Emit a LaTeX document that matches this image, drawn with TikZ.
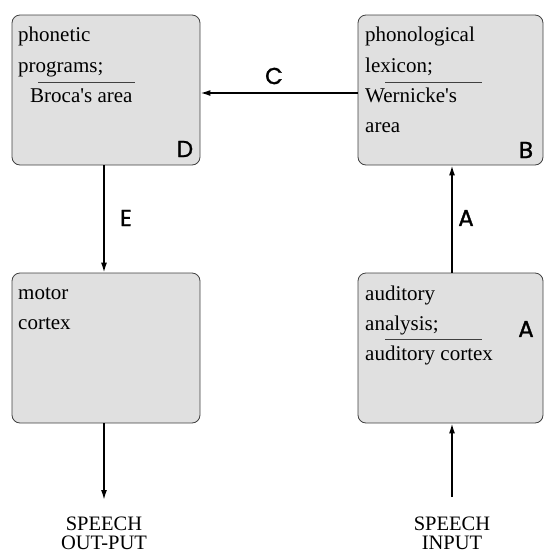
\documentclass[tikz,border=0pt]{standalone}
\usepackage{fontspec}
\setmainfont{Liberation Serif}
\newfontfamily\lblfont{Poppins}[FakeBold=1.3]
\usetikzlibrary{arrows.meta}
\definecolor{boxfill}{HTML}{E0E0E0}
\definecolor{boxline}{HTML}{404040}
\tikzset{
  box/.style={draw=boxline, line width=0.8pt, fill=boxfill, rounded corners=8pt, inner sep=0pt},
  arr/.style={line width=1.6pt, -{Latex[length=10pt,width=6pt]}},
  txt/.style={anchor=base west, inner sep=0pt, font=\fontsize{21}{24}\selectfont},
  ctxt/.style={anchor=base, inner sep=0pt, font=\fontsize{20.5}{24}\selectfont},
  lbl/.style={inner sep=0pt, font=\lblfont\fontsize{23}{26}\selectfont},
  sep/.style={line width=0.9pt, draw=boxline}
}
\begin{document}
\begin{tikzpicture}[x=1pt,y=-1pt]
\useasboundingbox (0,0) rectangle (544,555);
% boxes
\node[box, minimum width=188pt, minimum height=150pt] (D) at (106,90) {};
\node[box, minimum width=185pt, minimum height=150pt] (B) at (450.5,90) {};
\node[box, minimum width=188pt, minimum height=150pt] (M) at (106,348) {};
\node[box, minimum width=185pt, minimum height=150pt] (A) at (450.5,348) {};
% D text
\node[txt] (d1) at (18,41) {phonetic};
\node[txt] (d2) at (18,72) {programs;};
\node[txt] (d3) at (30,102) {Broca\textquotesingle s area};
\draw[sep] (38,82) -- (135,82);
\node[lbl] (dl) at (185,149) {D};
% B text
\node[txt] (b1) at (365,41) {phonological};
\node[txt] (b2) at (365,72) {lexicon;};
\node[txt] (b3) at (365,102) {Wernicke\textquotesingle s};
\node[txt] (b4) at (365,132) {area};
\draw[sep] (385,82.5) -- (482,82.5);
\node[lbl] (bl) at (526,150) {B};
% M text
\node[txt] (m1) at (18,299) {motor};
\node[txt] (m2) at (18,329) {cortex};
% A text
\node[txt] (a1) at (365,300) {auditory};
\node[txt] (a2) at (365,330) {analysis;};
\node[txt] (a3) at (365,360) {auditory cortex};
\draw[sep] (385,339) -- (482,339);
\node[lbl] (al) at (526,329) {A};
% connectors
\draw[arr] ([yshift=-3pt]B.west) -- ([yshift=-3pt]D.east);
\node[lbl] (cl) at (274,76) {C};
\draw[arr] ([xshift=-2pt]D.south) -- ([xshift=-2pt]M.north);
\node[lbl] (el) at (126,218) {E};
\draw[arr] ([xshift=1.5pt]A.north) -- ([xshift=1.5pt]B.south);
\node[lbl] (al2) at (466,218) {A};
\coordinate (out) at (104,500);
\coordinate (in) at (452,497);
\draw[arr] ([xshift=-2pt]M.south) -- (out);
\draw[arr] (in) -- ([xshift=1.5pt]A.south);
% bottom texts
\node[ctxt] (so) at (104,530) {SPEECH};
\node[ctxt] (op) at (104,549.5) {OUT-PUT};
\node[ctxt] (si) at (452,530) {SPEECH};
\node[ctxt] (ip) at (452,549.5) {INPUT};
\end{tikzpicture}
\end{document}
